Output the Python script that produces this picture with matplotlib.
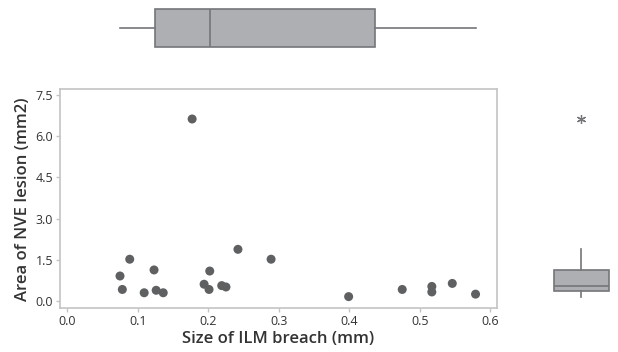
"""Scatter of NVE lesion area vs ILM breach size, with marginal boxplots."""
import numpy as np
import matplotlib
matplotlib.use("Agg")
import matplotlib.pyplot as plt

plt.rcParams["font.family"] = ["Open Sans", "DejaVu Sans"]

# ILM breach size (mm) and NVE lesion area (mm2)
breach = [0.177, 0.0885, 0.0747, 0.078, 0.123, 0.109, 0.126, 0.136, 0.202,
          0.194, 0.201, 0.219, 0.225, 0.242, 0.289, 0.399, 0.475, 0.517,
          0.517, 0.546, 0.579]
area = [6.62, 1.52, 0.91, 0.42, 1.13, 0.30, 0.39, 0.30, 1.09, 0.61, 0.42,
        0.56, 0.51, 1.88, 1.52, 0.16, 0.42, 0.53, 0.33, 0.64, 0.25]

x_ticks = [0.0, 0.1, 0.2, 0.3, 0.4, 0.5, 0.6]
y_ticks = [0.0, 1.5, 3.0, 4.5, 6.0, 7.5]

W, H = 618, 352
xlim = (-0.0104, 0.609)
ylim = (-0.265, 7.70)

pt_col = "#5f6062"
box_face = "#aeafb2"
box_edge = "#75767a"
spine_col = "#c4c4c4"
text_col = "#333333"


def minitab_stats(vals):
    # Minitab quartiles use the (n+1)p position
    v = np.asarray(vals)
    q1, med, q3 = np.percentile(v, [25, 50, 75], method="weibull")
    iqr = q3 - q1
    lo = v[v >= q1 - 1.5 * iqr].min()
    hi = v[v <= q3 + 1.5 * iqr].max()
    fl = v[(v < lo) | (v > hi)]
    return dict(q1=q1, med=med, q3=q3, whislo=lo, whishi=hi, fliers=fl)


def px(l, b, r, t):
    # pixel box (left, bottom-from-top, right, top-from-top) -> figure fraction
    return [l / W, 1 - b / H, (r - l) / W, (b - t) / H]


fig = plt.figure(figsize=(W / 100, H / 100), dpi=100)
ax = fig.add_axes(px(60, 308.3, 496.7, 89.3))
ax_top = fig.add_axes(px(60, 56, 496.7, 0))
ax_right = fig.add_axes(px(545, 308.3, 618, 89.3))

ax.scatter(breach, area, s=42, color=pt_col, edgecolors="none", zorder=3)
ax.set_xlim(*xlim)
ax.set_ylim(*ylim)
ax.set_xticks(x_ticks)
ax.set_yticks(y_ticks)
ax.xaxis.set_major_formatter(plt.FormatStrFormatter("%.1f"))
ax.yaxis.set_major_formatter(plt.FormatStrFormatter("%.1f"))
for s in ax.spines.values():
    s.set_color(spine_col)
    s.set_linewidth(1.2)
ax.tick_params(direction="out", length=3, width=1, color=spine_col,
               labelsize=9, labelcolor=text_col, pad=2)
for lab in ax.get_xticklabels() + ax.get_yticklabels():
    lab.set_fontweight("medium")
ax.set_xlabel("Size of ILM breach (mm)", fontsize=12, color=text_col,
              fontweight="semibold", labelpad=2)
ax.set_ylabel("Area of NVE lesion (mm2)", fontsize=12, color=text_col,
              fontweight="semibold", labelpad=3)

box_kw = dict(patch_artist=True, showfliers=True,
              boxprops=dict(facecolor=box_face, edgecolor=box_edge, linewidth=1.2),
              medianprops=dict(color=box_edge, linewidth=1.2),
              whiskerprops=dict(color=box_edge, linewidth=1.2),
              capprops=dict(linewidth=0),
              flierprops=dict(marker=(6, 2, 0), markersize=6.5, markeredgecolor=box_edge,
                              markeredgewidth=0.9, linestyle="none"))

ax_top.bxp([minitab_stats(breach)], positions=[0.5], widths=[0.68],
           vert=False, **box_kw)
ax_top.set_xlim(*xlim)
ax_top.set_ylim(0, 1)
ax_top.axis("off")

ax_right.bxp([minitab_stats(area)], positions=[0.497], widths=[0.753], **box_kw)
ax_right.set_ylim(*ylim)
ax_right.set_xlim(0, 1)
ax_right.axis("off")

fig.savefig("out.png", dpi=100)
print("Saved out.png")
